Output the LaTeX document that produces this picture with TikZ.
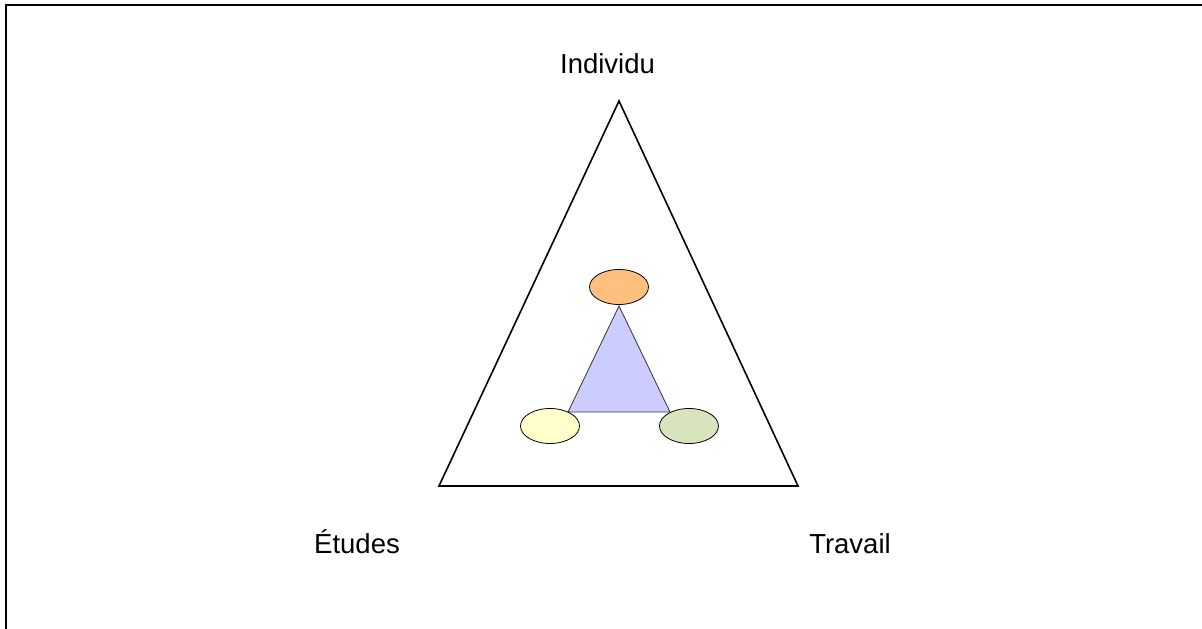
\documentclass[tikz,border=0pt]{standalone}
\usepackage{fontspec}
\setmainfont{Liberation Sans}
\usetikzlibrary{shapes.geometric}
\definecolor{orangefill}{HTML}{FFBF7F}
\definecolor{bluefill}{HTML}{CCCCFF}
\definecolor{yellowfill}{HTML}{FFFFCC}
\definecolor{greenfill}{HTML}{D7E4BD}
\begin{document}
\begin{tikzpicture}[x=1pt,y=1pt,
  lbl/.style={font=\fontsize{27.5}{32}\selectfont, inner sep=0pt, anchor=base},
  blob/.style={ellipse, draw=black, line width=0.8pt, minimum width=59pt, minimum height=35pt, inner sep=0pt},
  outer/.style={draw=black, line width=1.6pt, line join=miter},
  inner/.style={draw=black!80, line width=0.8pt, fill=bluefill}]
\useasboundingbox (0,0) rectangle (1202,629);
\draw[line width=2.2pt] (6,-5) -- (6,624) -- (1210,624);
% big triangle
\coordinate (A) at (619,528);
\coordinate (B) at (439,143);
\coordinate (C) at (798,143);
\draw[outer] (A) -- (B) -- (C) -- cycle;
% small triangle
\coordinate (a) at (619,323);
\coordinate (b) at (568,217);
\coordinate (c) at (670,217);
\draw[inner] (a) -- (b) -- (c) -- cycle;
% ellipses
\node[blob, fill=orangefill] (top) at (619,342) {};
\node[blob, fill=yellowfill] (left) at (550,203) {};
\node[blob, fill=greenfill] (right) at (689,203) {};
% labels
\node[lbl] (ind) at (607.5,555) {Individu};
\node[lbl] (etu) at (357,75) {Études};
\node[lbl] (tra) at (850,75) {Travail};
\end{tikzpicture}
\end{document}
